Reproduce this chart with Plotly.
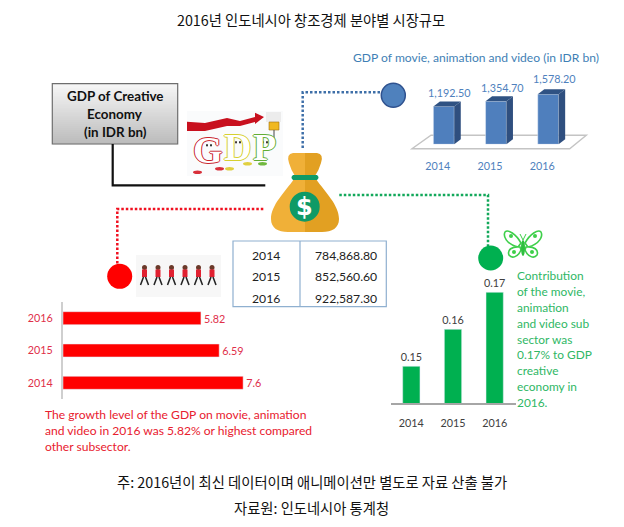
import plotly.graph_objects as go

# ---------- data ----------
years = ["2014", "2015", "2016"]
movie_gdp = [1192.50, 1354.70, 1578.20]
movie_gdp_labels = ["1,192.50", "1,354.70", "1,578.20"]
creative_gdp_labels = ["784,868.80", "852,560.60", "922,587.30"]
growth = [7.6, 6.59, 5.82]
growth_labels = ["7.6", "6.59", "5.82"]
contribution = [0.15, 0.16, 0.17]
contribution_labels = ["0.15", "0.16", "0.17"]

title = "2016년 인도네시아 창조경제 분야별 시장규모"
note = "주: 2016년이 최신 데이터이며 애니메이션만 별도로 자료 산출 불가"
source = "자료원: 인도네시아 통계청"
blue_title = "GDP of movie, animation and video (in IDR bn)"
box_lines = ["GDP of Creative", "Economy", "(in IDR bn)"]
red_lines = ["The growth level of the GDP on movie, animation",
             "and video in 2016 was 5.82% or highest compared",
             "other subsector."]
green_lines = ["Contribution", "of the movie,", "animation", "and video sub", "sector was",
               "0.17% to GDP", "creative", "economy in", "2016."]

W, H = 624, 527
LAT = "Lato, Carlito, sans-serif"
KR = "'Noto Sans CJK KR', sans-serif"
BLUE, BLUE_D, BLUE_S = "#4f7fbd", "#2f5283", "#2f4f7f"
RED_T, GREEN, GREEN_T = "#e0304a", "#00b050", "#2fb765"
NUM = 10.8


def xd(a, b):
    return [a / W, b / W]


def yd(top, bottom):
    return [1 - bottom / H, 1 - top / H]


fig = go.Figure()
shapes, ann = [], []


def shape(kind="path", layer="above", **kw):
    s = dict(type=kind, xref="x", yref="y", layer=layer)
    s.update(kw)
    if "line" not in s:
        s["line"] = dict(width=0)
    shapes.append(s)


def text(x, y, t, size=12, color="#222", font=LAT, anchor="center", **kw):
    fnt = dict(size=size, color=color, family=font)
    fnt.update(kw.pop("fontx", {}))
    ann.append(dict(x=x, y=y, xref="x", yref="y", text=t, showarrow=False,
                    xanchor=anchor, yanchor="middle", font=fnt, **kw))


def poly(d, fill, layer="above", line=None):
    shape(path=d, fillcolor=fill, layer=layer, line=line or dict(width=0))


# pixel-grid helper axes
fig.add_trace(go.Scatter(x=[0], y=[0], mode="markers", marker=dict(opacity=0), hoverinfo="skip",
                         showlegend=False, xaxis="x", yaxis="y"))

# ---------- red growth chart ----------
fig.add_trace(go.Bar(y=years, x=growth, orientation="h", marker=dict(color="#ff0000"), text=growth_labels,
                     textposition="outside", cliponaxis=False, constraintext="none",
                     textfont=dict(family=LAT, size=NUM, color=RED_T),
                     hoverinfo="skip", showlegend=False, xaxis="x2", yaxis="y2", width=0.4))

# ---------- green contribution chart ----------
fig.add_trace(go.Bar(x=years, y=contribution, marker=dict(color=GREEN), text=contribution_labels,
                     textposition="outside", constraintext="none",
                     textfont=dict(family=LAT, size=NUM, color="#404040"),
                     hoverinfo="skip", showlegend=False, xaxis="x3", yaxis="y3", width=0.415))

# ---------- blue pseudo-3D chart ----------
BW, DX, DY = 0.4, 0.125, 158
idx = list(range(len(years)))
for i, v in zip(idx, movie_gdp):
    r, l = i + BW / 2, i - BW / 2
    fig.add_trace(go.Scatter(x=[r, r + DX, r + DX, r, r], y=[0, DY, v + DY, v, 0], mode="lines", fill="toself",
                             fillcolor=BLUE_S, line=dict(width=0), hoverinfo="skip", showlegend=False,
                             xaxis="x4", yaxis="y4"))
    fig.add_trace(go.Scatter(x=[l, l + DX, r + DX, r, l], y=[v, v + DY, v + DY, v, v], mode="lines", fill="toself",
                             fillcolor=BLUE_D, line=dict(width=0), hoverinfo="skip", showlegend=False,
                             xaxis="x4", yaxis="y4"))
fig.add_trace(go.Bar(x=idx, y=movie_gdp, width=BW, marker=dict(color=BLUE), hoverinfo="skip", showlegend=False,
                     xaxis="x4", yaxis="y4"))
for i, v, t, ys in zip(idx, movie_gdp, movie_gdp_labels, [14, 13.5, 15.5]):
    ann.append(dict(x=i, y=v, xref="x4", yref="y4", text=t, showarrow=False, xshift=6, yshift=ys,
                    yanchor="middle", font=dict(family=LAT, size=NUM, color="#4f81bd")))

# floor of 3D chart
poly("M412 148.7 L569.7 148.7 L586.3 135.3 L431 135.3 Z", "rgba(255,255,255,0)", layer="below",
     line=dict(color="#c4c4c4", width=1.4))

# ---------- titles ----------
text(311, 19, title, size=14.3, font=KR, color="#111")
text(311.5, 481, note, size=14.3, font=KR, color="#111")
text(311, 507, source, size=14.3, font=KR, color="#111")
text(475.5, 57, blue_title, size=12.1, color="#3f7fb5")

# ---------- grey box ----------
N = 30
for k in range(N):
    c = int(246 - (246 - 188) * k / (N - 1))
    y0 = 83.7 + (144 - 83.7) * k / N
    shape(kind="rect", x0=52.3, x1=177.7, y0=y0, y1=y0 + (144 - 83.7) / N + 0.3, fillcolor=f"rgb({c},{c},{c})")
shape(kind="rect", x0=52.3, x1=177.7, y0=83.7, y1=144, line=dict(color="#6e6e6e", width=1.2))
for yy, t in zip([96, 114, 131.5], box_lines):
    text(115, yy, t, size=13.4, color="#111", fontx=dict(weight="bold"))

# ---------- connectors ----------
shape(path="M112.7 144 L112.7 185.3 L265.3 185.3", line=dict(color="#111", width=2.2))
DOT = "2.5px,2px"
shape(path="M302.7 148 L302.7 92.3 L381 92.3", line=dict(color="#3e6fa8", width=2.5, dash=DOT))
shape(path="M263.3 209 L117.3 209 L117.3 264", line=dict(color="#f01020", width=2.5, dash=DOT))
shape(path="M339.3 195 L488 195 L488 246", line=dict(color="#12a85a", width=2.5, dash=DOT))
shape(kind="circle", x0=381.3, x1=405.3, y0=83.3, y1=107.3, fillcolor="#4f81bd", line=dict(color="#2f528f", width=1.5))
shape(kind="circle", x0=107.2, x1=132.2, y0=263.8, y1=288.8, fillcolor="#ff0000")
shape(kind="circle", x0=478.2, x1=503.2, y0=245.5, y1=270.5, fillcolor=GREEN)

# ---------- table ----------
TC = "#8fb0d0"
shape(kind="rect", x0=233, x1=386.3, y0=241, y1=306.7, line=dict(color=TC, width=1.2))
shape(kind="line", x0=300, x1=300, y0=241, y1=306.7, line=dict(color=TC, width=1.2))
for yy, a, b in zip([255, 276.3, 298.3], years, creative_gdp_labels):
    text(266, yy, a, size=12.2)
    text(345.5, yy, b, size=12.2)

# ---------- money bag ----------
C1, C2 = "#f0b038", "#e2a022"
poly("M305 153 L293 153 Q286 154 289 163 Q291 170 295 176 L305 176 Z", C1)
poly("M305 153 L317 153 Q324 154 321 163 Q319 170 315 176 L305 176 Z", C2)
poly("M305 179 L294 179 C285 192 271 205 271 219 C271 228 278 232 288 232 L305 232 Z", C1)
poly("M305 179 L316 179 C325 192 339 205 339 219 C339 228 332 232 322 232 L305 232 Z", C2)
shape(path="M293 175 L317 175 Q320 177.5 317 180 L293 180 Q290 177.5 293 175 Z", fillcolor="#0f9a66")
shape(kind="circle", x0=289.7, x1=319.7, y0=191.7, y1=221.7, fillcolor="#0f9a66")
text(304.7, 206.5, "$", size=24, color="#fff", font="'DejaVu Sans'", fontx=dict(weight="bold"))

# ---------- GDP illustration ----------
shape(kind="rect", x0=187, x1=283, y0=111, y1=176, fillcolor="#fafbfc", layer="below")
poly("M187 121.7 L205 123 L227 118 L240 121 L255 117 L255 112.7 L264 117 L255 124 L255 122 L240 126 L227 126 L205 131 L187 131 Z", "#c8101e")
shape(kind="rect", x0=266, x1=281, y0=112, y1=122, fillcolor="#ececec")
shape(kind="rect", x0=269, x1=279, y0=122, y1=130, fillcolor="#f0b820", line=dict(color="#a07010", width=0.6))
shape(kind="line", x0=274, x1=274, y0=130, y1=146, line=dict(color="#444", width=1))
for x, y, t, col in [(208, 150, "G", "#c8242e"), (237, 147, "D", "#d6d030"), (264, 147, "P", "#62ad34")]:
    sh = ",".join(f"{a}px {b}px 0 {col}" for a, b in [(-1, 0), (1, 0), (0, -1), (0, 1)])
    text(x, y, t, size=38, color="#fff", font="'Liberation Serif'", fontx=dict(weight="bold", shadow=sh))
    shape(kind="circle", x0=x - 2, x1=x, y0=y - 6, y1=y - 3.5, fillcolor="#333")
    shape(kind="circle", x0=x + 2, x1=x + 4, y0=y - 6, y1=y - 3.5, fillcolor="#333")
for x0, y0, col in [(193, 170.5, "#d8303a"), (215, 167, "#d8303a"), (225, 167, "#e0d040"), (243, 162, "#e0d040"), (258, 162, "#70b840")]:
    shape(kind="circle", x0=x0, x1=x0 + 9, y0=y0, y1=y0 + 3.5, fillcolor=col)

# ---------- walkers ----------
shape(kind="rect", x0=136, x1=221, y0=255, y1=297, fillcolor="#f7f7f7", layer="below")
for cx in [144.5, 158, 171.5, 185, 198.5, 212]:
    shape(kind="circle", x0=cx - 2.5, x1=cx + 2.5, y0=265, y1=270, fillcolor="#6b3a2a")
    shape(kind="rect", x0=cx - 2.5, x1=cx + 2.5, y0=269.5, y1=277, fillcolor="#e02030")
    shape(path=f"M{cx - 1} 277 L{cx - 4} 285", line=dict(color="#222", width=1.5))
    shape(path=f"M{cx + 1} 277 L{cx + 4} 285", line=dict(color="#222", width=1.5))

# ---------- butterfly ----------
BG = "#3ecf4a"
for s in (-1, 1):
    m = lambda v: 523 + s * v
    poly(f"M{m(2)} 243 C{m(7)} 234 {m(15)} 229 {m(18)} 232 C{m(20)} 236 {m(17)} 244 {m(5)} 247 Z", "#ffffff",
         line=dict(color=BG, width=1.6))
    poly(f"M{m(3)} 247 C{m(11)} 246 {m(16)} 250 {m(14)} 255 C{m(11)} 259 {m(5)} 257 {m(2)} 250 Z", "#ffffff",
         line=dict(color=BG, width=1.6))
    shape(kind="circle", x0=m(12) - 2, x1=m(12) + 2, y0=234, y1=238, fillcolor=BG)
    shape(kind="circle", x0=m(9) - 2, x1=m(9) + 2, y0=250, y1=254, fillcolor=BG)
    shape(path=f"M523 240 L{m(3)} 234", line=dict(color=BG, width=1))
shape(kind="circle", x0=521, x1=525, y0=240, y1=256, fillcolor="#2fbf3f")

# ---------- side texts ----------
for yy, t in zip([414.7, 430.5, 446.7], red_lines):
    text(42.5, yy, t, size=12.1, color="#e8202e", anchor="left")
for yy, t in zip([275.7, 291.3, 307.5, 323, 339, 354.5, 370.5, 386, 402], green_lines):
    text(515, yy, t, size=11.9, color=GREEN_T, anchor="left")

hidden = dict(visible=False, showgrid=False, zeroline=False, fixedrange=True)
fig.update_layout(
    width=W, height=H, margin=dict(l=0, r=0, t=0, b=0), autosize=False,
    paper_bgcolor="white", plot_bgcolor="rgba(0,0,0,0)", showlegend=False,
    barmode="overlay", shapes=shapes, annotations=ann,
    xaxis=dict(hidden, domain=[0, 1], range=[0, W]),
    yaxis=dict(hidden, domain=[0, 1], range=[H, 0]),
    xaxis2=dict(hidden, domain=xd(63, 300), range=[0, 10], anchor="y2"),
    yaxis2=dict(domain=yd(302, 399), anchor="x2", type="category", categoryorder="array", categoryarray=years,
                showline=True, linecolor="#cfcfcf", linewidth=2, showgrid=False, zeroline=False, ticks="",
                ticklabelstandoff=6, tickfont=dict(family=LAT, size=NUM, color=RED_T), fixedrange=True),
    xaxis3=dict(domain=xd(390.5, 515.5), anchor="y3", type="category", showline=True, linecolor="#a6a6a6", linewidth=1.5,
                ticks="", showgrid=False, ticklabelstandoff=9, tickfont=dict(family=LAT, size=NUM, color="#404040"), fixedrange=True),
    yaxis3=dict(hidden, domain=yd(255.3, 403.3), range=[0.14, 0.18], anchor="x3"),
    xaxis4=dict(domain=xd(417.7, 574.3), range=[-0.5, 2.5], anchor="y4", tickmode="array", tickvals=idx, ticktext=years,
                showline=False, showgrid=False, zeroline=False, ticks="", ticklabelstandoff=14, ticklabelshift=-6,
                tickfont=dict(family=LAT, size=NUM, color="#4f81bd"), fixedrange=True),
    yaxis4=dict(hidden, domain=yd(80.9, 144.3), range=[0, 2000], anchor="x4"),
)
fig.write_html("out.html", config=dict(displayModeBar=False),
               post_script="document.body.style.margin='0';document.body.style.overflow='hidden';")
